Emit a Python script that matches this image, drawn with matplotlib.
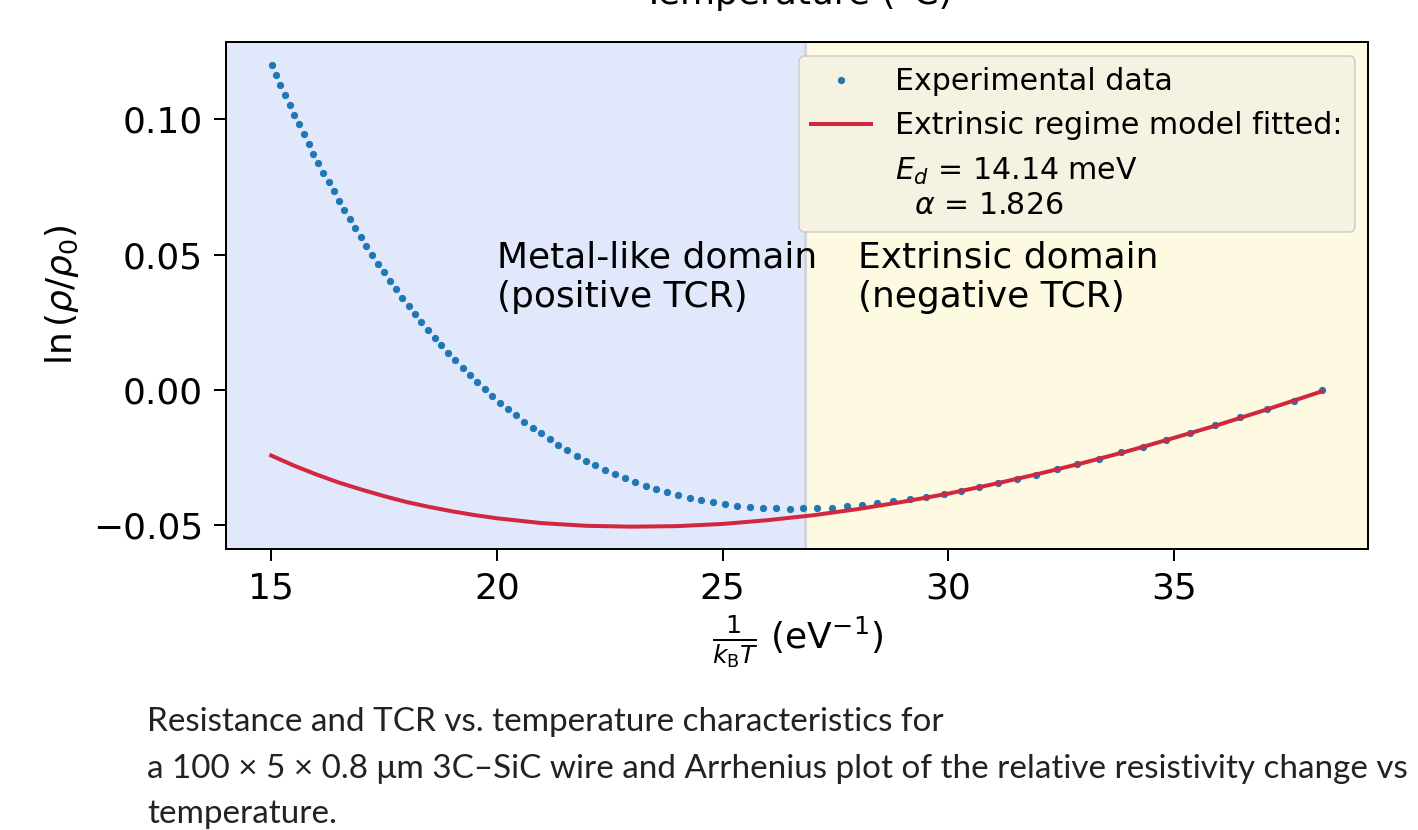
import matplotlib
matplotlib.use("Agg")
import matplotlib.pyplot as plt

# ---------------- data ----------------
temperature_c = [500, 495, 490, 485, 480, 475, 470, 465, 460, 455,
                 450, 445, 440, 435, 430, 425, 420, 415, 410, 405,
                 400, 395, 390, 385, 380, 375, 370, 365, 360, 355,
                 350, 345, 340, 335, 330, 325, 320, 315, 310, 305,
                 300, 295, 290, 285, 280, 275, 270, 265, 260, 255,
                 250, 245, 240, 235, 230, 225, 220, 215, 210, 205,
                 200, 195, 190, 185, 180, 175, 170, 165, 160, 155,
                 150, 145, 140, 135, 130, 125, 120, 115, 110, 105,
                 100, 95, 90, 85, 80, 75, 70, 65, 60, 55,
                 50, 45, 40, 35, 30]

ln_rho_ratio = [0.1201, 0.1164, 0.1127, 0.1090, 0.1053, 0.1017, 0.0982, 0.0945, 0.0909, 0.0873,
                0.0838, 0.0803, 0.0769, 0.0734, 0.0700, 0.0665, 0.0632, 0.0599, 0.0565, 0.0532,
                0.0499, 0.0467, 0.0435, 0.0404, 0.0372, 0.0341, 0.0312, 0.0281, 0.0251, 0.0222,
                0.0193, 0.0165, 0.0138, 0.0110, 0.0083, 0.0055, 0.0030, 0.0004, -0.0022, -0.0047,
                -0.0070, -0.0094, -0.0117, -0.0139, -0.0160, -0.0181, -0.0203, -0.0223, -0.0243, -0.0261,
                -0.0278, -0.0294, -0.0310, -0.0326, -0.0340, -0.0354, -0.0366, -0.0377, -0.0388, -0.0398,
                -0.0407, -0.0415, -0.0421, -0.0427, -0.0431, -0.0435, -0.0437, -0.0439, -0.0437, -0.0437,
                -0.0435, -0.0430, -0.0425, -0.0419, -0.0411, -0.0404, -0.0395, -0.0386, -0.0373, -0.0360,
                -0.0345, -0.0329, -0.0314, -0.0293, -0.0275, -0.0254, -0.0229, -0.0210, -0.0185, -0.0158,
                -0.0130, -0.0101, -0.0071, -0.0041, 0.0000]

fit_inv_kt = [15.0, 15.5, 16.0, 16.5, 17.0, 17.5, 18.0, 18.5, 19.0, 19.5,
              20.0, 21.0, 22.0, 23.0, 24.0, 25.0, 26.0, 27.0, 28.0, 29.0,
              30.0, 31.0, 32.0, 33.0, 34.0, 35.0, 36.0, 37.0, 38.28]
fit_ln_rho = [-0.0242, -0.0279, -0.0312, -0.0342, -0.0368, -0.0392, -0.0414, -0.0432, -0.0448, -0.0462,
              -0.0474, -0.0492, -0.0502, -0.0505, -0.0503, -0.0495, -0.0481, -0.0463, -0.0440, -0.0413,
              -0.0383, -0.0348, -0.0310, -0.0269, -0.0225, -0.0177, -0.0128, -0.0075, -0.0005]

domain_boundary = 26.82
x_ticks = [15, 20, 25, 30, 35]
y_ticks = [-0.05, 0.00, 0.05, 0.10]

fit_label = "$E_d$ = 14.14 meV\n  $\\alpha$ = 1.826"
caption_lines = [
    "Resistance and TCR vs. temperature characteristics for",
    "a 100 \u00d7 5 \u00d7 0.8 \u03bcm 3C\u2013SiC wire and Arrhenius plot of the relative resistivity change vs",
    "temperature.",
]

KB_EV = 8.617333e-5
inv_kt = [1.0 / (KB_EV * (t + 273.15)) for t in temperature_c]

# ---------------- figure ----------------
W, H = 1418, 830
fig = plt.figure(figsize=(W / 72, H / 72), dpi=72)
ax = fig.add_axes([226 / W, 1 - 548.5 / H, (1368 - 226) / W, (548.5 - 42) / H])

xmin, xmax = 14.0, 39.30
ymin, ymax = -0.05857, 0.12860

ax.set_facecolor('#E1E8FC')
ax.axvspan(domain_boundary, xmax, color='#FEF9E1', zorder=0, lw=0)
ax.axvline(domain_boundary, color='#D2D4DC', lw=3, zorder=0.5)

ax.plot(inv_kt, ln_rho_ratio, '.', color='#1f77b4', ms=12.5, label='Experimental data', zorder=3)
ax.plot(fit_inv_kt, fit_ln_rho, '-', color='#D0283F', lw=4, label='Extrinsic regime model fitted:', zorder=4)
ax.plot([], [], ' ', label=fit_label)

ax.set_xlim(xmin, xmax)
ax.set_ylim(ymin, ymax)
ax.set_xticks(x_ticks)
ax.set_yticks(y_ticks)
ax.tick_params(axis='both', labelsize=36, length=12, width=2, pad=11)
for s in ax.spines.values():
    s.set_linewidth(2)

ax.text(20.0, 0.028, "Metal-like domain\n(positive TCR)", fontsize=36, va='bottom', zorder=5)
ax.text(28.0, 0.028, "Extrinsic domain\n(negative TCR)", fontsize=36, va='bottom', zorder=5)

ax.set_xlabel(r'$\frac{1}{k_\mathrm{B}T}$ (eV$^{-1}$)', fontsize=36, labelpad=8)
ax.set_ylabel(r'ln$\,(\rho/\rho_0)$', fontsize=36, labelpad=12)

leg = ax.legend(loc='upper right', fontsize=30, facecolor='#F5F2E2', framealpha=1,
                edgecolor='#CCCCCC', handlelength=2.0, borderaxespad=0.45)
leg.get_frame().set_linewidth(1.5)

fig.text(797 / W, 1 - 4 / H, 'Temperature (\u00b0C)', ha='center', va='baseline', fontsize=36)

cap_y = [731, 778, 823]
for line, yy in zip(caption_lines, cap_y):
    fig.text(147 / W, 1 - yy / H, line, fontsize=33.3, family='Lato', fontweight='normal',
             va='baseline', ha='left', color='#222222')

fig.savefig('out.png', dpi=72)
